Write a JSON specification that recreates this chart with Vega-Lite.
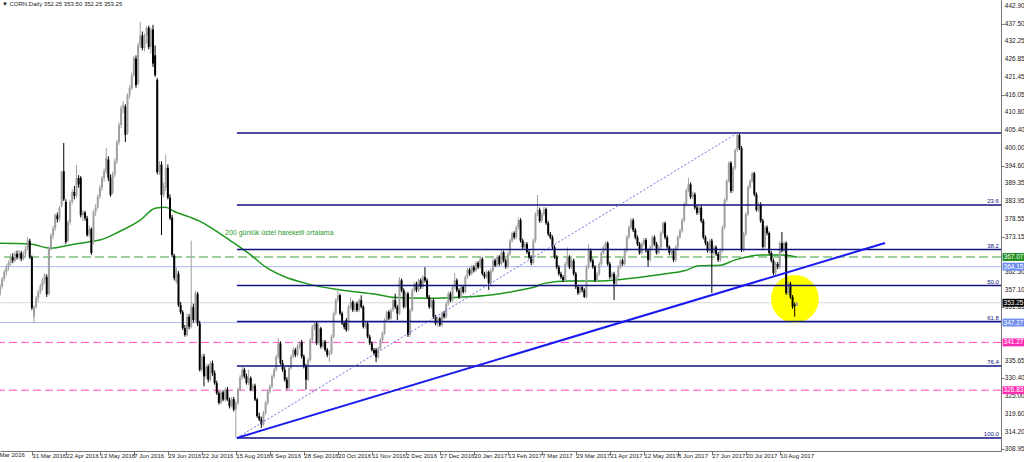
{
"$schema":"https://vega.github.io/schema/vega-lite/v6.json",
"width":1001,"height":451,
"autosize":{"type":"none"},
"padding":{"left":0,"top":0,"right":23,"bottom":11},
"background":"white",
"config":{"view":{"stroke":null},"axis":{"labelFont":"Liberation Sans","labelFontSize":6.5,"labelColor":"#222222","domainColor":"#777777","tickColor":"#777777","grid":false,"title":null,"labelOverlap":false,"labelFlush":false},"axisX":{"labelOverlap":false,"labelFontSize":6}},
"datasets":{
"candles":[
{"i":0,"o":356,"h":359,"l":355.2,"c":358.2},{"i":1,"o":358.2,"h":361,"l":357.5,"c":360.5},{"i":2,"o":360.5,"h":363.2,"l":359.8,"c":362.5},{"i":3,"o":362.5,"h":364.8,"l":361.5,"c":364},{"i":4,"o":364,"h":366,"l":363,"c":365.3},{"i":5,"o":365.3,"h":368,"l":364.5,"c":367},{"i":6,"o":367,"h":368.2,"l":365.2,"c":366},{"i":7,"o":366,"h":368.8,"l":365.5,"c":368},{"i":8,"o":368,"h":369,"l":366.3,"c":367},{"i":9,"o":367,"h":369.2,"l":366.2,"c":368.3},
{"i":10,"o":368.3,"h":368.9,"l":365.8,"c":366.5},{"i":11,"o":366.5,"h":368.8,"l":366,"c":368},{"i":12,"o":368,"h":370.3,"l":367.2,"c":369.5},{"i":13,"o":369.5,"h":373.1,"l":369,"c":372},{"i":14,"o":372,"h":372.6,"l":366.5,"c":367},{"i":15,"o":367,"h":367.5,"l":351,"c":351.7},{"i":16,"o":349,"h":352.5,"l":347.1,"c":352},{"i":17,"o":352,"h":355.3,"l":351.5,"c":354.7},{"i":18,"o":354.7,"h":357.2,"l":353.5,"c":356.5},{"i":19,"o":356.5,"h":359,"l":355.8,"c":358.2},
{"i":20,"o":358.2,"h":360.8,"l":357,"c":360},{"i":21,"o":360,"h":362.2,"l":359,"c":361.6},{"i":22,"o":361,"h":361.8,"l":355,"c":355.8},{"i":23,"o":356,"h":370.3,"l":355.5,"c":369.8},{"i":24,"o":369.8,"h":374.2,"l":369,"c":373.6},{"i":25,"o":373.6,"h":376.5,"l":372.5,"c":375.8},{"i":26,"o":375.8,"h":380.2,"l":375,"c":379.7},{"i":27,"o":379.7,"h":380.5,"l":377.5,"c":378.5},{"i":28,"o":378.5,"h":382.5,"l":377.8,"c":381.9},{"i":29,"o":382.5,"h":393.2,"l":382,"c":392.7},
{"i":30,"o":393,"h":401.5,"l":384,"c":384.5},{"i":31,"o":383.7,"h":384.5,"l":371,"c":371.6},{"i":32,"o":372,"h":378.2,"l":371.5,"c":377.6},{"i":33,"o":377.6,"h":384.3,"l":376.8,"c":383.7},{"i":34,"o":383.7,"h":387.5,"l":383,"c":386.7},{"i":35,"o":386.7,"h":388.5,"l":384.5,"c":385.5},{"i":36,"o":385.5,"h":394.9,"l":385,"c":390.9},{"i":37,"o":390.9,"h":391.8,"l":388,"c":389},{"i":38,"o":391,"h":391.5,"l":379,"c":379.7},{"i":39,"o":379.7,"h":381.2,"l":378,"c":380.5},
{"i":40,"o":380.5,"h":381,"l":378,"c":378.8},{"i":41,"o":378.8,"h":379.5,"l":373.2,"c":373.7},{"i":42,"o":373.7,"h":376.5,"l":373,"c":375.5},{"i":43,"o":375.5,"h":376,"l":367.7,"c":368.3},{"i":44,"o":371.6,"h":381.2,"l":370.8,"c":380.7},{"i":45,"o":380.7,"h":383,"l":379.5,"c":382},{"i":46,"o":382,"h":386,"l":381.5,"c":385.3},{"i":47,"o":385.3,"h":388.8,"l":384.6,"c":388},{"i":48,"o":388,"h":391.5,"l":387,"c":390.9},{"i":49,"o":390.9,"h":393.8,"l":389.8,"c":393},
{"i":50,"o":393,"h":400,"l":392.2,"c":397},{"i":51,"o":396.5,"h":397.5,"l":390,"c":391},{"i":52,"o":391,"h":392,"l":385.3,"c":385.8},{"i":53,"o":386.5,"h":392.8,"l":386,"c":392},{"i":54,"o":392,"h":396.8,"l":391.3,"c":396},{"i":55,"o":396,"h":402.5,"l":395.2,"c":401.8},{"i":56,"o":401.8,"h":407.8,"l":401,"c":407},{"i":57,"o":407,"h":412.8,"l":406,"c":412.1},{"i":58,"o":412.1,"h":414.2,"l":410.5,"c":413},{"i":59,"o":412.5,"h":413.2,"l":401.8,"c":404},
{"i":60,"o":404.5,"h":416.5,"l":404,"c":416},{"i":61,"o":416,"h":419,"l":415,"c":418.1},{"i":62,"o":418.1,"h":422.8,"l":417.5,"c":422},{"i":63,"o":422,"h":427.8,"l":421.5,"c":427.2},{"i":64,"o":427,"h":428,"l":418.2,"c":419},{"i":65,"o":419.5,"h":431.8,"l":419,"c":431.1},{"i":66,"o":431.1,"h":438.1,"l":430.2,"c":434},{"i":67,"o":434,"h":435.2,"l":429.5,"c":430.2},{"i":68,"o":430.2,"h":434.6,"l":429.2,"c":434},{"i":69,"o":434,"h":436.8,"l":431.5,"c":436.3},
{"i":70,"o":436.3,"h":437,"l":429.8,"c":430.5},{"i":71,"o":430.5,"h":436.5,"l":428.5,"c":435.8},{"i":72,"o":435.8,"h":437.2,"l":424.5,"c":425.5},{"i":73,"o":428,"h":431,"l":421.5,"c":422},{"i":74,"o":420.5,"h":421.2,"l":392,"c":392.7},{"i":75,"o":392.7,"h":396,"l":391.8,"c":395},{"i":76,"o":395,"h":396,"l":373.7,"c":385.8},{"i":77,"o":385.8,"h":389.5,"l":385,"c":388.5},{"i":78,"o":388,"h":398,"l":387,"c":394},{"i":79,"o":394,"h":395,"l":384.5,"c":385},
{"i":80,"o":385,"h":386,"l":378.2,"c":378.8},{"i":81,"o":379,"h":379.8,"l":367,"c":367.7},{"i":82,"o":367.5,"h":368,"l":360,"c":360.7},{"i":83,"o":359.5,"h":364,"l":359,"c":363},{"i":84,"o":362,"h":362.8,"l":352,"c":352.6},{"i":85,"o":352.6,"h":353.5,"l":349.8,"c":350.4},{"i":86,"o":350.4,"h":351,"l":345,"c":345.6},{"i":87,"o":345.6,"h":346.5,"l":343,"c":343.5},{"i":88,"o":343.5,"h":350,"l":343,"c":349},{"i":89,"o":349,"h":349.8,"l":345.2,"c":346},
{"i":90,"o":346,"h":372,"l":345.5,"c":352},{"i":91,"o":352,"h":353,"l":347.2,"c":348},{"i":92,"o":348,"h":356.8,"l":347.5,"c":356},{"i":93,"o":356,"h":356.5,"l":346.2,"c":347},{"i":94,"o":347,"h":347.8,"l":332.5,"c":333},{"i":95,"o":333,"h":337.8,"l":332.2,"c":337},{"i":96,"o":337,"h":337.8,"l":328,"c":331},{"i":97,"o":331,"h":334.8,"l":330.2,"c":334},{"i":98,"o":334,"h":334.6,"l":329.2,"c":330},{"i":99,"o":330,"h":335.6,"l":329.5,"c":335},
{"i":100,"o":335,"h":335.8,"l":331.2,"c":332},{"i":101,"o":332,"h":332.8,"l":328.5,"c":329},{"i":102,"o":329,"h":329.7,"l":325.4,"c":326},{"i":103,"o":326,"h":326.6,"l":322.5,"c":323},{"i":104,"o":323,"h":326.8,"l":322.5,"c":326.2},{"i":105,"o":326.2,"h":326.8,"l":323.5,"c":324},{"i":106,"o":324,"h":327.6,"l":323.4,"c":327},{"i":107,"o":327,"h":327.8,"l":323.5,"c":324},{"i":108,"o":324,"h":324.6,"l":321.3,"c":322},{"i":109,"o":322,"h":324.8,"l":321.5,"c":324.2},
{"i":110,"o":324.2,"h":324.8,"l":320.4,"c":321},{"i":111,"o":321,"h":323.6,"l":312.4,"c":323},{"i":112,"o":323,"h":327.6,"l":322.4,"c":327},{"i":113,"o":327,"h":331.4,"l":326.5,"c":330.8},{"i":114,"o":330.8,"h":334,"l":330,"c":333},{"i":115,"o":333,"h":333.6,"l":330.4,"c":331},{"i":116,"o":331,"h":331.8,"l":328.5,"c":329},{"i":117,"o":329,"h":333,"l":328.4,"c":330.5},{"i":118,"o":330.5,"h":331,"l":326.5,"c":327},{"i":119,"o":327,"h":328.8,"l":326.4,"c":328.2},
{"i":120,"o":328.2,"h":328.8,"l":323.5,"c":324},{"i":121,"o":324,"h":324.5,"l":318.5,"c":319},{"i":122,"o":319,"h":320,"l":317.5,"c":318},{"i":123,"o":318,"h":318.8,"l":315.4,"c":316.5},{"i":124,"o":316.5,"h":320.6,"l":316,"c":320},{"i":125,"o":320,"h":323.6,"l":319.4,"c":323},{"i":126,"o":323,"h":327,"l":322.4,"c":326.5},{"i":127,"o":326.5,"h":328.6,"l":325.8,"c":328},{"i":128,"o":328,"h":331.6,"l":327.4,"c":331},{"i":129,"o":331,"h":333.6,"l":330.4,"c":333},
{"i":130,"o":333,"h":337.6,"l":332.5,"c":337},{"i":131,"o":337,"h":342.6,"l":336.4,"c":341},{"i":132,"o":341,"h":341.6,"l":334.5,"c":335},{"i":133,"o":335,"h":336,"l":332.4,"c":333},{"i":134,"o":333,"h":333.8,"l":329.4,"c":330},{"i":135,"o":330,"h":330.8,"l":327,"c":327.5},{"i":136,"o":327.5,"h":334.2,"l":327,"c":333.5},{"i":137,"o":333.5,"h":337.6,"l":333,"c":337},{"i":138,"o":337,"h":339.8,"l":336.4,"c":339},{"i":139,"o":339,"h":339.6,"l":336.8,"c":337.5},
{"i":140,"o":337.5,"h":340.6,"l":337,"c":340},{"i":141,"o":340,"h":341.6,"l":339.2,"c":341.4},{"i":142,"o":341.4,"h":342,"l":336.4,"c":337},{"i":143,"o":337,"h":337.6,"l":333.4,"c":334},{"i":144,"o":334,"h":334.8,"l":327,"c":330},{"i":145,"o":330,"h":336.6,"l":329.5,"c":336},{"i":146,"o":336,"h":342.6,"l":335.4,"c":342},{"i":147,"o":342,"h":346.6,"l":341.4,"c":346},{"i":148,"o":346,"h":347.4,"l":345,"c":346.8},{"i":149,"o":347,"h":347.5,"l":340.4,"c":341},
{"i":150,"o":341,"h":347.1,"l":340.5,"c":345.5},{"i":151,"o":345.5,"h":346,"l":339.4,"c":340},{"i":152,"o":340,"h":342,"l":339.4,"c":341.5},{"i":153,"o":341.5,"h":342,"l":338.5,"c":339},{"i":154,"o":339,"h":339.6,"l":336.8,"c":337.5},{"i":155,"o":337.5,"h":338.8,"l":335.4,"c":338},{"i":156,"o":338,"h":343.6,"l":337.5,"c":343},{"i":157,"o":343,"h":350.6,"l":342.5,"c":350},{"i":158,"o":350,"h":354.6,"l":349.5,"c":354},{"i":159,"o":354,"h":357.5,"l":353.5,"c":355.5},
{"i":160,"o":355.5,"h":356,"l":349.5,"c":350},{"i":161,"o":350,"h":350.6,"l":346.5,"c":347},{"i":162,"o":347,"h":347.6,"l":345.2,"c":345.9},{"i":163,"o":348,"h":348.6,"l":344.5,"c":345},{"i":164,"o":345,"h":352.6,"l":344.6,"c":352},{"i":165,"o":352,"h":355,"l":351.4,"c":353.5},{"i":166,"o":353.5,"h":354,"l":350.5,"c":351},{"i":167,"o":351,"h":353.6,"l":350.5,"c":353},{"i":168,"o":353,"h":353.6,"l":350.4,"c":351},{"i":169,"o":351,"h":354.6,"l":350.5,"c":354},
{"i":170,"o":354,"h":355.5,"l":351.5,"c":352},{"i":171,"o":352,"h":352.5,"l":345.5,"c":346},{"i":172,"o":346,"h":347.8,"l":345.4,"c":347},{"i":173,"o":347,"h":347.6,"l":342.5,"c":343},{"i":174,"o":343,"h":343.6,"l":340.5,"c":341},{"i":175,"o":341,"h":341.6,"l":338.5,"c":339},{"i":176,"o":339,"h":339.6,"l":337.4,"c":338},{"i":177,"o":339,"h":339.6,"l":335.3,"c":336.8},{"i":178,"o":336.8,"h":340,"l":336.2,"c":339.5},{"i":179,"o":339.5,"h":342.6,"l":339,"c":342},
{"i":180,"o":342,"h":344.6,"l":341.4,"c":344},{"i":181,"o":344,"h":348.6,"l":343.5,"c":348},{"i":182,"o":348,"h":350.8,"l":347.4,"c":350.4},{"i":183,"o":350.4,"h":351,"l":348,"c":348.5},{"i":184,"o":348.5,"h":351.6,"l":348,"c":351},{"i":185,"o":351,"h":354.6,"l":350.5,"c":354},{"i":186,"o":354,"h":356,"l":351.4,"c":352},{"i":187,"o":352,"h":352.6,"l":348,"c":350},{"i":188,"o":350,"h":361,"l":349.5,"c":360},{"i":189,"o":360,"h":360.6,"l":356.4,"c":357},
{"i":190,"o":357,"h":357.6,"l":351.5,"c":352},{"i":191,"o":352,"h":356.6,"l":351.5,"c":356},{"i":192,"o":356,"h":356.5,"l":342.9,"c":343.5},{"i":193,"o":343.5,"h":351.6,"l":343,"c":351},{"i":194,"o":351,"h":357.6,"l":350.5,"c":357},{"i":195,"o":357,"h":359.6,"l":356.4,"c":359},{"i":196,"o":359,"h":359.6,"l":356.4,"c":357},{"i":197,"o":357,"h":360.6,"l":356.5,"c":360},{"i":198,"o":360,"h":360.6,"l":357.4,"c":358},{"i":199,"o":358,"h":361.6,"l":357.5,"c":361},
{"i":200,"o":361,"h":364,"l":359.4,"c":360},{"i":201,"o":360,"h":360.6,"l":354.4,"c":355},{"i":202,"o":355,"h":355.6,"l":351.4,"c":352},{"i":203,"o":352,"h":354.6,"l":351.5,"c":354},{"i":204,"o":354,"h":354.6,"l":348.4,"c":349},{"i":205,"o":349,"h":349.6,"l":346.4,"c":347},{"i":206,"o":347,"h":349,"l":345.9,"c":348.5},{"i":207,"o":348.5,"h":349,"l":346,"c":346.5},{"i":208,"o":346.5,"h":350.6,"l":346,"c":350},{"i":209,"o":350,"h":350.8,"l":348.4,"c":349},
{"i":210,"o":349,"h":353.6,"l":348.5,"c":353},{"i":211,"o":353,"h":356.6,"l":352.4,"c":356},{"i":212,"o":356,"h":356.6,"l":353.4,"c":354},{"i":213,"o":354,"h":358.6,"l":353.5,"c":358},{"i":214,"o":358,"h":362.2,"l":357.4,"c":360},{"i":215,"o":360,"h":360.6,"l":356.4,"c":357},{"i":216,"o":357,"h":357.6,"l":354.4,"c":355},{"i":217,"o":355,"h":358.6,"l":354.5,"c":358},{"i":218,"o":358,"h":358.6,"l":356,"c":356.5},{"i":219,"o":356.5,"h":361.6,"l":356,"c":361},
{"i":220,"o":361,"h":363.8,"l":360.4,"c":363.2},{"i":221,"o":363.2,"h":363.8,"l":361.4,"c":362},{"i":222,"o":362,"h":364.6,"l":361.5,"c":364},{"i":223,"o":364,"h":364.6,"l":362.4,"c":363},{"i":224,"o":363,"h":365.8,"l":362.5,"c":365.3},{"i":225,"o":365.3,"h":365.8,"l":363.4,"c":364},{"i":226,"o":364,"h":367.5,"l":363.5,"c":366.5},{"i":227,"o":366.5,"h":367,"l":361.5,"c":362},{"i":228,"o":362,"h":362.6,"l":360.4,"c":361},{"i":229,"o":361,"h":363.2,"l":360.5,"c":362.5},
{"i":230,"o":362.5,"h":363,"l":357.1,"c":359.2},{"i":231,"o":359.2,"h":363.6,"l":358.6,"c":363},{"i":232,"o":363,"h":366.6,"l":362.4,"c":366},{"i":233,"o":366,"h":366.6,"l":364,"c":364.5},{"i":234,"o":364.5,"h":367.6,"l":364,"c":367.1},{"i":235,"o":367.1,"h":367.6,"l":364.4,"c":365},{"i":236,"o":365,"h":369.2,"l":364.5,"c":368.5},{"i":237,"o":368.5,"h":369,"l":365.4,"c":366},{"i":238,"o":366,"h":366.6,"l":363.5,"c":364.1},{"i":239,"o":364.1,"h":368.6,"l":363.6,"c":368},
{"i":240,"o":368,"h":372.6,"l":367.4,"c":372},{"i":241,"o":372,"h":374.8,"l":371.4,"c":374.3},{"i":242,"o":374.3,"h":374.8,"l":372.4,"c":373},{"i":243,"o":373,"h":376.6,"l":372.5,"c":376},{"i":244,"o":376,"h":379,"l":375.4,"c":378.2},{"i":245,"o":378.2,"h":378.8,"l":371.4,"c":372},{"i":246,"o":372,"h":372.6,"l":369.4,"c":370},{"i":247,"o":370,"h":371.6,"l":369.4,"c":371},{"i":248,"o":371,"h":371.6,"l":368,"c":368.6},{"i":249,"o":368.6,"h":369.2,"l":366.4,"c":367},
{"i":250,"o":367,"h":367.6,"l":364.6,"c":365.3},{"i":251,"o":365.3,"h":372.6,"l":364.8,"c":372},{"i":252,"o":372,"h":380.6,"l":371.4,"c":380},{"i":253,"o":380,"h":385.8,"l":379.4,"c":381.3},{"i":254,"o":381.3,"h":382,"l":377.4,"c":378},{"i":255,"o":378,"h":380.6,"l":377.4,"c":380},{"i":256,"o":380,"h":382.2,"l":379.4,"c":381.5},{"i":257,"o":381.5,"h":382,"l":376.8,"c":377.3},{"i":258,"o":377.3,"h":378,"l":373.4,"c":374},{"i":259,"o":374,"h":374.6,"l":372.4,"c":373},
{"i":260,"o":373,"h":373.6,"l":369.4,"c":370},{"i":261,"o":370,"h":370.6,"l":366.5,"c":367.1},{"i":262,"o":367.1,"h":367.6,"l":363.4,"c":364},{"i":263,"o":364,"h":364.6,"l":361.4,"c":362},{"i":264,"o":362,"h":362.6,"l":360.4,"c":361},{"i":265,"o":361,"h":361.6,"l":359.5,"c":360.1},{"i":266,"o":360.1,"h":365.6,"l":359.6,"c":365},{"i":267,"o":365,"h":370,"l":364.4,"c":367},{"i":268,"o":367,"h":367.6,"l":363.4,"c":364},{"i":269,"o":364,"h":366.6,"l":363.5,"c":366},
{"i":270,"o":366,"h":366.6,"l":361.4,"c":362},{"i":271,"o":362,"h":362.6,"l":357.4,"c":358},{"i":272,"o":358,"h":358.6,"l":355.6,"c":356.2},{"i":273,"o":356.2,"h":358.6,"l":355.8,"c":358},{"i":274,"o":358,"h":358.6,"l":356.4,"c":357},{"i":275,"o":357,"h":357.6,"l":354.7,"c":355},{"i":276,"o":355,"h":364.6,"l":354.5,"c":364},{"i":277,"o":364,"h":371,"l":363.4,"c":369},{"i":278,"o":369,"h":369.6,"l":365.4,"c":366},{"i":279,"o":366,"h":366.6,"l":363.5,"c":364.1},
{"i":280,"o":364.1,"h":364.6,"l":359.5,"c":360.1},{"i":281,"o":360.1,"h":362.6,"l":359.5,"c":362},{"i":282,"o":362,"h":365.6,"l":361.4,"c":365},{"i":283,"o":365,"h":368.8,"l":364.4,"c":368.3},{"i":284,"o":368.3,"h":370.6,"l":367.8,"c":370},{"i":285,"o":370,"h":371.8,"l":369.4,"c":371.3},{"i":286,"o":371.3,"h":371.8,"l":364.4,"c":365},{"i":287,"o":365,"h":365.6,"l":360.4,"c":361},{"i":288,"o":361,"h":362.6,"l":360.4,"c":362},{"i":289,"o":362,"h":362.6,"l":354.1,"c":359},
{"i":290,"o":359,"h":361.6,"l":358.4,"c":361},{"i":291,"o":361,"h":364.6,"l":360.5,"c":364.1},{"i":292,"o":364.1,"h":366.6,"l":363.5,"c":366},{"i":293,"o":366,"h":366.6,"l":364.4,"c":365},{"i":294,"o":365,"h":369.6,"l":364.5,"c":369},{"i":295,"o":369,"h":373.6,"l":368.4,"c":373.1},{"i":296,"o":373.1,"h":376.6,"l":372.5,"c":376},{"i":297,"o":376,"h":378.8,"l":375.4,"c":378.2},{"i":298,"o":378.2,"h":378.8,"l":374.6,"c":375.2},{"i":299,"o":375.2,"h":375.8,"l":372.4,"c":373},
{"i":300,"o":373,"h":373.6,"l":370.4,"c":371},{"i":301,"o":371,"h":371.6,"l":367.8,"c":368.3},{"i":302,"o":368.3,"h":371.6,"l":367.8,"c":371},{"i":303,"o":371,"h":372.8,"l":370.4,"c":372.2},{"i":304,"o":372.2,"h":372.8,"l":368.4,"c":369},{"i":305,"o":369,"h":369.6,"l":364.1,"c":366.2},{"i":306,"o":366.2,"h":370.6,"l":365.6,"c":370},{"i":307,"o":370,"h":373.6,"l":369.4,"c":373},{"i":308,"o":373,"h":373.6,"l":370.4,"c":371},{"i":309,"o":371,"h":371.6,"l":367.8,"c":368.3},
{"i":310,"o":368.3,"h":370.6,"l":367.8,"c":370},{"i":311,"o":370,"h":374.8,"l":369.4,"c":374.3},{"i":312,"o":374.3,"h":377.8,"l":373.8,"c":377.3},{"i":313,"o":377.3,"h":377.8,"l":372.4,"c":373},{"i":314,"o":373,"h":373.6,"l":369.6,"c":370.1},{"i":315,"o":370.1,"h":370.6,"l":367.6,"c":368.3},{"i":316,"o":368.3,"h":369.6,"l":367.6,"c":369},{"i":317,"o":369,"h":369.6,"l":365.5,"c":366.2},{"i":318,"o":366.2,"h":370.6,"l":365.6,"c":370},{"i":319,"o":370,"h":373.6,"l":369.4,"c":373.1},
{"i":320,"o":373.1,"h":375.6,"l":372.5,"c":375},{"i":321,"o":375,"h":378.8,"l":374.4,"c":378.2},{"i":322,"o":378.2,"h":383.6,"l":377.6,"c":383},{"i":323,"o":383,"h":387.8,"l":382.4,"c":387.3},{"i":324,"o":387.3,"h":390.9,"l":386.6,"c":389},{"i":325,"o":389,"h":389.6,"l":384.6,"c":385.2},{"i":326,"o":385.2,"h":386.8,"l":384.6,"c":386},{"i":327,"o":386,"h":386.6,"l":381.4,"c":382},{"i":328,"o":382,"h":382.6,"l":379.8,"c":380.4},{"i":329,"o":380.4,"h":382.6,"l":379.8,"c":382},
{"i":330,"o":382,"h":382.6,"l":377.4,"c":378},{"i":331,"o":378,"h":378.6,"l":372.4,"c":373},{"i":332,"o":373,"h":373.6,"l":370.6,"c":371.3},{"i":333,"o":371.3,"h":371.8,"l":368.4,"c":369},{"i":334,"o":369,"h":372.6,"l":368.4,"c":372},{"i":335,"o":372,"h":372.6,"l":356.2,"c":368.3},{"i":336,"o":368.3,"h":370.6,"l":367.6,"c":370},{"i":337,"o":370,"h":370.6,"l":367.4,"c":368},{"i":338,"o":368,"h":368.6,"l":365.6,"c":366.2},{"i":339,"o":366.2,"h":369.6,"l":365.6,"c":369},
{"i":340,"o":369,"h":376.6,"l":368.4,"c":376},{"i":341,"o":376,"h":384.8,"l":375.4,"c":384.3},{"i":342,"o":384.3,"h":390.6,"l":383.6,"c":390},{"i":343,"o":390,"h":396,"l":389.4,"c":395.5},{"i":344,"o":395.5,"h":396,"l":386.4,"c":387},{"i":345,"o":387,"h":394.6,"l":386.5,"c":394},{"i":346,"o":394,"h":399.8,"l":393.4,"c":399.4},{"i":347,"o":399.4,"h":404.5,"l":398.8,"c":403.9},{"i":348,"o":403.9,"h":404.3,"l":399.4,"c":400},{"i":349,"o":400,"h":400.6,"l":368.6,"c":369.2},
{"i":350,"o":369.2,"h":374.6,"l":368.6,"c":374},{"i":351,"o":374,"h":380.6,"l":373.4,"c":380},{"i":352,"o":380,"h":388.8,"l":379.4,"c":388.2},{"i":353,"o":388.2,"h":390.6,"l":387.6,"c":390},{"i":354,"o":390,"h":392.8,"l":389.4,"c":392.4},{"i":355,"o":392.4,"h":392.8,"l":385.4,"c":386},{"i":356,"o":386,"h":386.6,"l":380.8,"c":381.3},{"i":357,"o":381.3,"h":383.6,"l":380.6,"c":383},{"i":358,"o":383,"h":383.6,"l":377.4,"c":378},{"i":359,"o":378,"h":378.6,"l":369.6,"c":370.1},
{"i":360,"o":370.1,"h":376.6,"l":369.6,"c":376},{"i":361,"o":376,"h":376.6,"l":373.6,"c":374.3},{"i":362,"o":374.3,"h":374.8,"l":367.8,"c":368.3},{"i":363,"o":368.3,"h":368.8,"l":365.4,"c":366},{"i":364,"o":366,"h":366.6,"l":361.6,"c":362.2},{"i":365,"o":362.2,"h":365.6,"l":361.6,"c":365},{"i":366,"o":365,"h":365.6,"l":363.4,"c":364},{"i":367,"o":364,"h":371.8,"l":363.4,"c":371.3},{"i":368,"o":371.3,"h":374.6,"l":368.4,"c":369},{"i":369,"o":369,"h":371.8,"l":368.4,"c":371.3},
{"i":370,"o":371.3,"h":371.8,"l":355.6,"c":356.2},{"i":371,"o":356.2,"h":359.6,"l":355.6,"c":359},{"i":372,"o":359,"h":359.6,"l":354.4,"c":355},{"i":373,"o":355,"h":355.6,"l":351.4,"c":352},{"i":374,"o":352.8,"h":353.4,"l":349,"c":352.25},{"i":375,"o":352.25,"h":353.5,"l":352.25,"c":353.25}
],
"ema":[
{"i":0,"p":371.2},{"i":14,"p":371.0},{"i":24,"p":369.7},{"i":33,"p":370.7},{"i":42,"p":371.7},{"i":47,"p":372.2},{"i":56,"p":374.7},{"i":66,"p":378.2},{"i":73,"p":381.8},{"i":78,"p":382.1},{"i":82,"p":380.8},{"i":89,"p":379.2},{"i":94,"p":377.9},{"i":101,"p":375.2},{"i":108,"p":372.2},{"i":118,"p":367.7},{"i":125,"p":364.1},{"i":134,"p":361.1},{"i":144,"p":359.1},{"i":158,"p":357.3},{"i":167,"p":356.6},{"i":176,"p":355.9},{"i":186,"p":354.8},{"i":202,"p":354.6},{"i":216,"p":354.9},{"i":231,"p":355.6},{"i":245,"p":357.1},{"i":252,"p":358.1},{"i":256,"p":359.1},{"i":268,"p":359.8},{"i":282,"p":359.8},{"i":292,"p":360.3},{"i":311,"p":361.8},{"i":322,"p":362.9},{"i":329,"p":364.4},{"i":339,"p":364.6},{"i":346,"p":366.2},{"i":358,"p":367.7},{"i":369,"p":367.7},{"i":375,"p":367.0}
],
"ylabels":[
{"p":442.9,"t":"442.90"},{"p":437.5,"t":"437.50"},{"p":432.25,"t":"432.25"},{"p":426.85,"t":"426.85"},{"p":421.45,"t":"421.45"},{"p":416.05,"t":"416.05"},{"p":410.8,"t":"410.80"},{"p":405.4,"t":"405.40"},{"p":400,"t":"400.00"},{"p":394.6,"t":"394.60"},{"p":389.35,"t":"389.35"},{"p":383.95,"t":"383.95"},{"p":378.55,"t":"378.55"},{"p":373.15,"t":"373.15"},{"p":362.5,"t":"362.50"},{"p":357.1,"t":"357.10"},{"p":351.85,"t":"351.85"},{"p":335.65,"t":"335.65"},{"p":330.4,"t":"330.40"},{"p":325,"t":"325.00"},{"p":319.6,"t":"319.60"},{"p":314.2,"t":"314.20"},{"p":308.95,"t":"308.95"}
]
},
"layer":[
{"data":{"values":[{"p":353.25}]},"mark":{"type":"rule","color":"#d9d9d9","strokeWidth":1},
 "encoding":{"y":{"field":"p","type":"quantitative","title":null,"scale":{"domain":[308.46,444.71],"nice":false,"zero":false},
   "axis":{"orient":"right","values":[442.9,437.5,432.25,426.85,421.45,416.05,410.8,405.4,400,394.6,389.35,383.95,378.55,373.15,367.8,362.5,357.1,351.85,346.45,341.05,335.65,330.4,325,319.6,314.2,308.95],
    "labels":false,"tickSize":3,"title":null}}}},
{"data":{"values":[{"p":364.15},{"p":347.27}]},"mark":{"type":"rule","color":"#a9b9f2","strokeWidth":1},
 "encoding":{"y":{"field":"p","type":"quantitative","title":null,"scale":{"domain":[308.46,444.71],"nice":false,"zero":false}}}},
{"data":{"values":[{"p":341.27},{"p":326.83}]},"mark":{"type":"rule","color":"#ff4fc3","strokeWidth":1,"strokeDash":[8,4]},
 "encoding":{"y":{"field":"p","type":"quantitative","title":null,"scale":{"domain":[308.46,444.71],"nice":false,"zero":false}}}},
{"data":{"values":[{"p":367.07}]},"mark":{"type":"rule","color":"#3f9f3f","strokeWidth":1,"strokeDash":[9,4]},
 "encoding":{"y":{"field":"p","type":"quantitative","title":null,"scale":{"domain":[308.46,444.71],"nice":false,"zero":false}}}},
{"data":{"values":[{"i":374.1,"p":354.4}]},"mark":{"type":"point","shape":"circle","filled":true,"size":2290,"color":"#ffff00","opacity":1,"strokeWidth":0},
 "encoding":{"x":{"field":"i","type":"quantitative","title":null,"scale":{"domain":[0,471.1],"nice":false,"zero":false},
   "axis":{"orient":"bottom","values":[15,31,47,63,79,95,111,127,143,159,175,191,207,223,239,255,271,287,303,319,335,351,367],
    "labelExpr":"['31 Mar 2016','22 Apr 2016','13 May 2016','7 Jun 2016','29 Jun 2016','22 Jul 2016','15 Aug 2016','6 Sep 2016','28 Sep 2016','20 Oct 2016','11 Nov 2016','2 Dec 2016','27 Dec 2016','20 Jan 2017','13 Feb 2017','7 Mar 2017','29 Mar 2017','21 Apr 2017','12 May 2017','6 Jun 2017','27 Jun 2017','20 Jul 2017','10 Aug 2017'][round((datum.value-15)/16)]",
    "tickSize":4,"labelFontSize":6,"labelAlign":"left","labelBaseline":"middle","labelPadding":0,"labelDx":2,"labelOverlap":false,"labelFlush":false,"title":null}},
  "y":{"field":"p","type":"quantitative","title":null,"scale":{"domain":[308.46,444.71],"nice":false,"zero":false}}}},
{"data":{"name":"ema"},"mark":{"type":"line","color":"#1e961e","strokeWidth":1.5,"interpolate":"monotone"},
 "encoding":{"x":{"field":"i","type":"quantitative","title":null,"scale":{"domain":[0,471.1],"nice":false,"zero":false}},
  "y":{"field":"p","type":"quantitative","title":null,"scale":{"domain":[308.46,444.71],"nice":false,"zero":false}}}},
{"data":{"name":"candles"},"mark":{"type":"rule","strokeWidth":1},
 "encoding":{"x":{"field":"i","type":"quantitative","title":null,"scale":{"domain":[0,471.1],"nice":false,"zero":false}},
  "y":{"field":"h","type":"quantitative","title":null,"scale":{"domain":[308.46,444.71],"nice":false,"zero":false}},
  "y2":{"field":"l"},
  "color":{"condition":{"test":"datum.c >= datum.o","value":"#a0a0a0"},"value":"#000000"}}},
{"data":{"name":"candles"},"mark":{"type":"rule","strokeWidth":2,"strokeCap":"butt"},
 "encoding":{"x":{"field":"i","type":"quantitative","title":null,"scale":{"domain":[0,471.1],"nice":false,"zero":false}},
  "y":{"field":"o","type":"quantitative","title":null,"scale":{"domain":[308.46,444.71],"nice":false,"zero":false}},
  "y2":{"field":"c"},
  "color":{"condition":{"test":"datum.c >= datum.o","value":"#a0a0a0"},"value":"#000000"}}},
{"data":{"values":[{"i":111.5,"i2":471.1,"p":404.5},{"i":111.5,"i2":471.1,"p":382.76},{"i":111.5,"i2":471.1,"p":369.32},{"i":111.5,"i2":471.1,"p":358.45},{"i":111.5,"i2":471.1,"p":347.58},{"i":111.5,"i2":471.1,"p":334.13},{"i":111.5,"i2":471.1,"p":312.4}]},
 "mark":{"type":"rule","color":"#12127f","strokeWidth":1.5},
 "encoding":{"x":{"field":"i","type":"quantitative","title":null,"scale":{"domain":[0,471.1],"nice":false,"zero":false}},"x2":{"field":"i2"},
  "y":{"field":"p","type":"quantitative","title":null,"scale":{"domain":[308.46,444.71],"nice":false,"zero":false}}}},
{"data":{"values":[{"i":111.5,"p":312.4,"i2":347,"p2":404.5}]},"mark":{"type":"rule","color":"#6e6ee0","strokeWidth":1,"strokeDash":[2,2]},
 "encoding":{"x":{"field":"i","type":"quantitative","title":null,"scale":{"domain":[0,471.1],"nice":false,"zero":false}},"x2":{"field":"i2"},
  "y":{"field":"p","type":"quantitative","title":null,"scale":{"domain":[308.46,444.71],"nice":false,"zero":false}},"y2":{"field":"p2"}}},
{"data":{"values":[{"i":111.5,"p":312.4,"i2":416.5,"p2":371.3}]},"mark":{"type":"rule","color":"#1a1aee","strokeWidth":2},
 "encoding":{"x":{"field":"i","type":"quantitative","title":null,"scale":{"domain":[0,471.1],"nice":false,"zero":false}},"x2":{"field":"i2"},
  "y":{"field":"p","type":"quantitative","title":null,"scale":{"domain":[308.46,444.71],"nice":false,"zero":false}},"y2":{"field":"p2"}}},
{"data":{"values":[{"p":382.76,"t":"23.6"},{"p":369.32,"t":"38.2"},{"p":358.45,"t":"50.0"},{"p":347.58,"t":"61.8"},{"p":334.13,"t":"76.4"},{"p":312.4,"t":"100.0"}]},
 "mark":{"type":"text","align":"right","baseline":"bottom","dy":-1,"font":"Liberation Sans","fontSize":6,"color":"#12127f"},
 "encoding":{"x":{"datum":470.1,"type":"quantitative","title":null,"scale":{"domain":[0,471.1],"nice":false,"zero":false}},
  "y":{"field":"p","type":"quantitative","title":null,"scale":{"domain":[308.46,444.71],"nice":false,"zero":false}},"text":{"field":"t"}}},
{"data":{"values":[{"i":105.9,"p":374.2,"t":"200 günlük üstel hareketli ortalama"}]},
 "mark":{"type":"text","align":"left","baseline":"middle","font":"Liberation Sans","fontSize":7,"color":"#2a9a2a"},
 "encoding":{"x":{"field":"i","type":"quantitative","title":null,"scale":{"domain":[0,471.1],"nice":false,"zero":false}},
  "y":{"field":"p","type":"quantitative","title":null,"scale":{"domain":[308.46,444.71],"nice":false,"zero":false}},"text":{"field":"t"}}},
{"data":{"values":[{"i":0.9,"p":443.4,"t":"▼ CORN.Daily  352.25 353.50 352.25 353.25"},{"i":-2.6,"p":307.3,"t":"9 Mar 2016"}]},
 "mark":{"type":"text","align":"left","baseline":"middle","font":"Liberation Sans","fontSize":6,"color":"#222222"},
 "encoding":{"x":{"field":"i","type":"quantitative","title":null,"scale":{"domain":[0,471.1],"nice":false,"zero":false}},
  "y":{"field":"p","type":"quantitative","title":null,"scale":{"domain":[308.46,444.71],"nice":false,"zero":false}},"text":{"field":"t"}}},
{"data":{"name":"ylabels"},
 "mark":{"type":"text","align":"left","baseline":"middle","font":"Liberation Sans","fontSize":6.5,"color":"#222222"},
 "encoding":{"x":{"datum":472.9,"type":"quantitative","title":null,"scale":{"domain":[0,471.1],"nice":false,"zero":false}},
  "y":{"field":"p","type":"quantitative","title":null,"scale":{"domain":[308.46,444.71],"nice":false,"zero":false}},"text":{"field":"t"}}},
{"data":{"values":[{"p":367.07,"t":"367.07","k":"g"},{"p":364.15,"t":"364.15","k":"b"},{"p":353.25,"t":"353.25","k":"k"},{"p":347.27,"t":"347.27","k":"b"},{"p":341.27,"t":"341.27","k":"m"},{"p":326.83,"t":"326.83","k":"m"}]},
 "mark":{"type":"point","shape":"M-1,-0.36H1V0.36H-1Z","filled":true,"size":484,"opacity":1,"strokeWidth":0},
 "encoding":{"x":{"datum":477.0,"type":"quantitative","title":null,"scale":{"domain":[0,471.1],"nice":false,"zero":false}},
  "y":{"field":"p","type":"quantitative","title":null,"scale":{"domain":[308.46,444.71],"nice":false,"zero":false}},
  "color":{"field":"k","type":"nominal","scale":{"domain":["g","b","k","m"],"range":["#1f8f1f","#6f8ff0","#000000","#ff2db4"]},"legend":null}}},
{"data":{"values":[{"p":367.07,"t":"367.07"},{"p":364.15,"t":"364.15"},{"p":353.25,"t":"353.25"},{"p":347.27,"t":"347.27"},{"p":341.27,"t":"341.27"},{"p":326.83,"t":"326.83"}]},
 "mark":{"type":"text","align":"left","baseline":"middle","font":"Liberation Sans","fontSize":6.5,"color":"#ffffff"},
 "encoding":{"x":{"datum":472.3,"type":"quantitative","title":null,"scale":{"domain":[0,471.1],"nice":false,"zero":false}},
  "y":{"field":"p","type":"quantitative","title":null,"scale":{"domain":[308.46,444.71],"nice":false,"zero":false}},"text":{"field":"t"}}}
]
}
